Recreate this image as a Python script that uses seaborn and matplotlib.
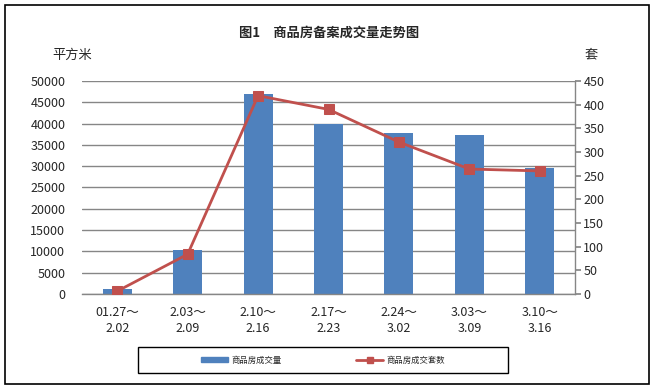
import matplotlib
matplotlib.use("Agg")
import matplotlib.pyplot as plt
import seaborn as sns
import pandas as pd
import numpy as np
from matplotlib.patches import Rectangle
from matplotlib.lines import Line2D
from matplotlib.patches import Patch

sns.set_theme(style="white")
plt.rcParams['font.family'] = ['Noto Sans CJK SC', 'DejaVu Sans']

categories = ["01.27～\n2.02", "2.03～\n2.09", "2.10～\n2.16", "2.17～\n2.23",
              "2.24～\n3.02", "3.03～\n3.09", "3.10～\n3.16"]
area = [1200, 10300, 46900, 40000, 37800, 37300, 29600]
units = [6, 84, 419, 390, 321, 264, 260]
left_ticks = list(range(0, 50001, 5000))
right_ticks = list(range(0, 451, 50))

bar_color = "#4F81BD"
line_color = "#C0504D"
grid_color = "#868686"

W, H = 653, 388
fig = plt.figure(figsize=(W / 100, H / 100), dpi=100)
ax = fig.add_axes([82 / W, 1 - 294 / H, (575 - 82) / W, (294 - 81) / H])

df = pd.DataFrame({"cat": categories, "area": area, "units": units})
sns.barplot(data=df, x="cat", y="area", ax=ax, color=bar_color, width=0.41,
            saturation=1, order=categories, linewidth=0, edgecolor="none")
ax.set_ylim(0, 50000)
ax.set_yticks(left_ticks)
ax.set_yticklabels([str(t) for t in left_ticks], fontsize=9)
ax.yaxis.grid(True, color=grid_color, linewidth=1)
ax.set_axisbelow(True)
ax.set_xlabel("")
ax.set_ylabel("")
ax.tick_params(axis="x", length=0, labelsize=9, pad=9)
for lbl in ax.get_xticklabels():
    lbl.set_linespacing(1.25)
ax.tick_params(axis="y", length=0, pad=12)
for s in ["left", "top", "right"]:
    ax.spines[s].set_visible(False)
ax.spines["bottom"].set_color(grid_color)
ax.spines["bottom"].set_linewidth(1)

ax2 = ax.twinx()
df["pos"] = np.arange(len(categories))
sns.lineplot(data=df, x="pos", y="units", ax=ax2, color=line_color, linewidth=2.0,
             marker="s", markersize=7, markeredgecolor=line_color)
ax2.set_ylim(0, 450)
ax2.set_xlim(-0.5, len(categories) - 0.5)
ax.set_xlim(-0.5, len(categories) - 0.5)
ax2.set_yticks(right_ticks)
ax2.set_yticklabels([str(t) for t in right_ticks], fontsize=9)
ax2.set_xlabel("")
ax2.set_ylabel("")
ax2.tick_params(axis="y", length=4, color=grid_color, direction="out", pad=2, right=True)
for s in ["left", "top", "bottom"]:
    ax2.spines[s].set_visible(False)
ax2.spines["right"].set_color(grid_color)
ax2.spines["right"].set_linewidth(1)

fig.text(329 / W, 1 - 33 / H, "图1　商品房备案成交量走势图", ha="center", va="center",
         fontsize=9.5, fontweight="bold")
fig.text(72 / W, 1 - 55 / H, "平方米", ha="center", va="center", fontsize=9.5)
fig.text(591 / W, 1 - 55 / H, "套", ha="center", va="center", fontsize=9.5)

# outer border
fig.patches.append(Rectangle((5 / W, 1 - 384 / H), (649 - 5) / W, (384 - 5) / H,
                             transform=fig.transFigure, fill=False, edgecolor="black", linewidth=1.2))
# legend frame
fig.patches.append(Rectangle((138 / W, 1 - 373 / H), (508 - 138) / W, (373 - 347) / H,
                             transform=fig.transFigure, fill=False, edgecolor="black", linewidth=1.0))
handles = [Patch(facecolor=bar_color, edgecolor=bar_color),
           Line2D([0], [0], color=line_color, linewidth=2, marker="s", markersize=5)]
fig.legend(handles, ["商品房成交量", "商品房成交套数"], loc="center",
           bbox_to_anchor=(323 / W, 1 - 360 / H), ncol=2, frameon=False, fontsize=6,
           handlelength=3.2, handleheight=0.6, columnspacing=9, handletextpad=0.4)

fig.savefig("out.png", dpi=100)
